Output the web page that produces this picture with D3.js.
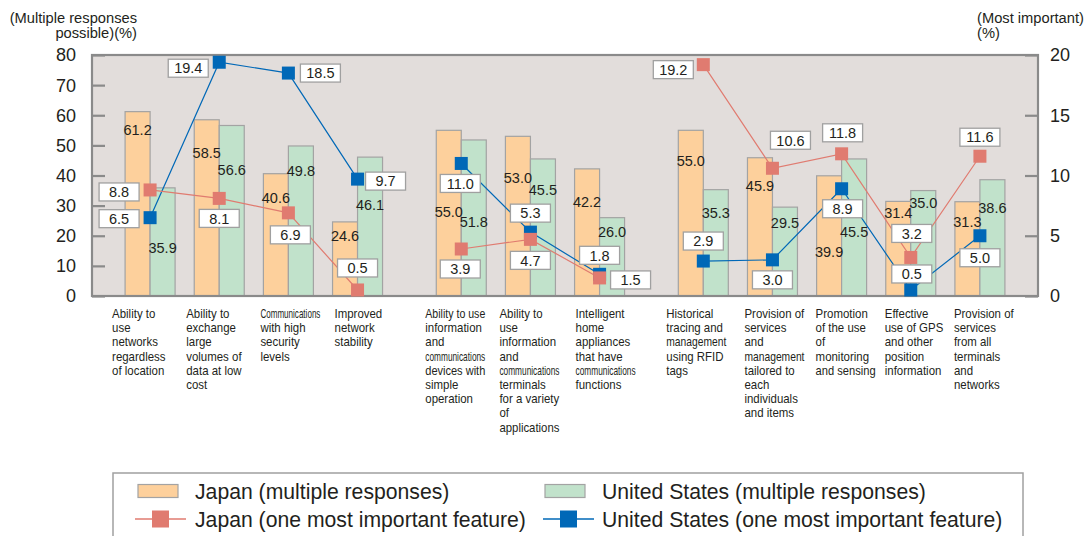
<!DOCTYPE html>
<html>
<head>
<meta charset="utf-8">
<script src="https://cdn.jsdelivr.net/npm/d3@7"></script>
<style>
  body { margin: 0; background: #fff; }
  text { font-family: "Liberation Sans", Arial, sans-serif; fill: #231f20; }
</style>
</head>
<body>
<svg id="chart"></svg>
<script>
// data
const categories = [
  ["Ability to", "use", "networks", "regardless", "of location"],
  ["Ability to", "exchange", "large", "volumes of", "data at low", "cost"],
  ["Communications", "with high", "security", "levels"],
  ["Improved", "network", "stability"],
  ["Ability to use", "information", "and", "communications", "devices with", "simple", "operation"],
  ["Ability to", "use", "information", "and", "communications", "terminals", "for a variety", "of", "applications"],
  ["Intelligent", "home", "appliances", "that have", "communications", "functions"],
  ["Historical", "tracing and", "management", "using RFID", "tags"],
  ["Provision of", "services", "and", "management", "tailored to", "each", "individuals", "and items"],
  ["Promotion", "of the use", "of", "monitoring", "and sensing"],
  ["Effective", "use of GPS", "and other", "position", "information"],
  ["Provision of", "services", "from all", "terminals", "and", "networks"]
];
// group of each category (gaps are drawn between groups)
const groups = [0, 0, 0, 0, 1, 1, 1, 2, 2, 2, 2, 2];

const japanMulti = [61.2, 58.5, 40.6, 24.6, 55.0, 53.0, 42.2, 55.0, 45.9, 39.9, 31.4, 31.3];
const usMulti    = [35.9, 56.6, 49.8, 46.1, 51.8, 45.5, 26.0, 35.3, 29.5, 45.5, 35.0, 38.6];
const japanTop   = [8.8, 8.1, 6.9, 0.5, 3.9, 4.7, 1.5, 19.2, 10.6, 11.8, 3.2, 11.6];
const usTop      = [6.5, 19.4, 18.5, 9.7, 11.0, 5.3, 1.8, 2.9, 3.0, 8.9, 0.5, 5.0];

const leftTicks = [0, 10, 20, 30, 40, 50, 60, 70, 80];
const rightTicks = [0, 5, 10, 15, 20];

// label placement tweaks (pixels)
const jpBarLabelDy = [18, 33, 24, 14, 81, 41, 33, 30, 28, 76, 11, 20];
const usBarLabelDy = [60, 44, 25, 48, 82, 31, 14, 23, 16, 73, 12, 28];
const jpBoxOff = [[-31, 2], [0, 20], [2, 22], [0, -22], [-1, 20], [0, 21], [31, 2], [-30, 5], [18, -28], [1, -21], [1, -24], [0, -19]];
const usBoxOff = [[-31, 1], [-31, 6], [32, 0], [28, 2], [-1, 20], [0, -19], [0, -19], [0, -20], [0, 20], [1, 20], [1, -16], [0, 22]];
const catLabelDx = [-38, -33, -28, -23, -36, -31, -24, -37, -28, -26, -26, -26];

// constants
const width = 1088;
const height = 536;
const plot = { left: 92, right: 1038, top: 55, bottom: 296 };
const barW = 25;

const colors = {
  bg: "#e2dddb",
  frame: "#8a8a8a",
  jpBar: "#fdd09c",
  usBar: "#c1e2cb",
  barStroke: "#a3a3a3",
  jpLine: "#e07b70",
  usLine: "#0068b7"
};

const svg = d3.select("#chart")
  .attr("width", width)
  .attr("height", height);

// slot position of each category (half a slot of extra space between groups)
const slot = categories.map((d, i) => i + groups[i] * 0.5);

const x = d3.scaleLinear()
  .domain([-0.84, 12.84])
  .range([plot.left, plot.right]);
const yLeft = d3.scaleLinear().domain([0, 80]).range([plot.bottom, plot.top]);
const yRight = d3.scaleLinear().domain([0, 20]).range([plot.bottom, plot.top]);

// plot background
svg.append("rect")
  .attr("x", plot.left)
  .attr("y", plot.top)
  .attr("width", plot.right - plot.left)
  .attr("height", plot.bottom - plot.top)
  .attr("fill", colors.bg);

// bars
const bars = svg.append("g");
bars.selectAll(".jp")
  .data(japanMulti)
  .enter().append("rect")
  .attr("x", (d, i) => x(slot[i]) - barW)
  .attr("y", d => yLeft(d))
  .attr("width", barW)
  .attr("height", d => plot.bottom - yLeft(d))
  .attr("fill", colors.jpBar)
  .attr("stroke", colors.barStroke)
  .attr("stroke-width", 1.2);
bars.selectAll(".us")
  .data(usMulti)
  .enter().append("rect")
  .attr("x", (d, i) => x(slot[i]))
  .attr("y", d => yLeft(d))
  .attr("width", barW)
  .attr("height", d => plot.bottom - yLeft(d))
  .attr("fill", colors.usBar)
  .attr("stroke", colors.barStroke)
  .attr("stroke-width", 1.2);

// bar value labels
const barLabels = svg.append("g")
  .style("font-size", "14.5px")
  .attr("text-anchor", "middle");
barLabels.selectAll(".jpl")
  .data(japanMulti)
  .enter().append("text")
  .attr("x", (d, i) => x(slot[i]) - barW / 2)
  .attr("y", (d, i) => yLeft(d) + jpBarLabelDy[i])
  .attr("dy", "0.36em")
  .text(d => d.toFixed(1));
barLabels.selectAll(".usl")
  .data(usMulti)
  .enter().append("text")
  .attr("x", (d, i) => x(slot[i]) + barW / 2)
  .attr("y", (d, i) => yLeft(d) + usBarLabelDy[i])
  .attr("dy", "0.36em")
  .text(d => d.toFixed(1));

// frame and axes
svg.append("rect")
  .attr("x", plot.left)
  .attr("y", plot.top)
  .attr("width", plot.right - plot.left)
  .attr("height", plot.bottom - plot.top)
  .attr("fill", "none")
  .attr("stroke", colors.frame)
  .attr("stroke-width", 2.2);

const leftAxis = svg.append("g")
  .attr("transform", "translate(" + plot.left + ",0)")
  .call(d3.axisRight(yLeft).tickValues(leftTicks).tickSize(13).tickFormat(""));
const rightAxis = svg.append("g")
  .attr("transform", "translate(" + plot.right + ",0)")
  .call(d3.axisLeft(yRight).tickValues(rightTicks).tickSize(13).tickFormat(""));
[leftAxis, rightAxis].forEach(a => {
  a.select(".domain").remove();
  a.selectAll(".tick line").attr("stroke", colors.frame).attr("stroke-width", 2.2);
});

svg.append("g")
  .style("font-size", "18px")
  .attr("text-anchor", "end")
  .selectAll("text")
  .data(leftTicks)
  .enter().append("text")
  .attr("x", plot.left - 16)
  .attr("y", d => yLeft(d))
  .attr("dy", "0.36em")
  .text(d => d);

svg.append("g")
  .style("font-size", "18px")
  .attr("text-anchor", "start")
  .selectAll("text")
  .data(rightTicks)
  .enter().append("text")
  .attr("x", plot.right + 12)
  .attr("y", d => yRight(d))
  .attr("dy", "0.36em")
  .text(d => d);

// axis titles
const leftTitle = svg.append("text")
  .attr("text-anchor", "end")
  .style("font-size", "14.7px");
leftTitle.append("tspan").attr("x", 137).attr("y", 23).text("(Multiple responses");
leftTitle.append("tspan").attr("x", 137).attr("y", 38).text("possible)(%)");

const rightTitle = svg.append("text")
  .style("font-size", "14.7px");
rightTitle.append("tspan").attr("x", 977).attr("y", 23).text("(Most important)");
rightTitle.append("tspan").attr("x", 977).attr("y", 38).text("(%)");

// lines (one segment per group)
function drawLine(values, yScale, color) {
  const line = d3.line()
    .x(d => x(slot[d]))
    .y(d => yScale(values[d]));
  d3.groups(d3.range(values.length), i => groups[i]).forEach(([g, idx]) => {
    svg.append("path")
      .attr("d", line(idx))
      .attr("fill", "none")
      .attr("stroke", color)
      .attr("stroke-width", 1.2);
  });
}
drawLine(usTop, yRight, colors.usLine);
drawLine(japanTop, yRight, colors.jpLine);

// value boxes
function drawBoxes(values, offsets) {
  const g = svg.append("g").selectAll("g")
    .data(values)
    .enter().append("g")
    .attr("transform", (d, i) => "translate(" + (x(slot[i]) + offsets[i][0]) + "," + (yRight(d) + offsets[i][1]) + ")");
  g.append("rect")
    .attr("x", -20)
    .attr("y", -9)
    .attr("width", 40)
    .attr("height", 18)
    .attr("fill", "#fff")
    .attr("stroke", "#a0a0a0")
    .attr("stroke-width", 1.3);
  g.append("text")
    .attr("text-anchor", "middle")
    .attr("dy", "0.36em")
    .style("font-size", "14.5px")
    .text(d => d.toFixed(1));
}
drawBoxes(usTop, usBoxOff);
drawBoxes(japanTop, jpBoxOff);

// markers (Japan drawn on top)
function drawMarkers(values, color) {
  svg.append("g").selectAll("rect")
    .data(values)
    .enter().append("rect")
    .attr("x", (d, i) => x(slot[i]) - 6.5)
    .attr("y", d => yRight(d) - 6.5)
    .attr("width", 13)
    .attr("height", 13)
    .attr("fill", color);
}
drawMarkers(usTop, colors.usLine);
drawMarkers(japanTop, colors.jpLine);

// category labels (narrowed glyphs, long words squeezed to fit the column)
const squeeze = 0.88;
const maxLine = 60;
const cats = svg.append("g")
  .style("font-size", "13px")
  .selectAll("text")
  .data(categories)
  .enter().append("text")
  .attr("transform", (d, i) => "translate(" + (x(slot[i]) + catLabelDx[i]) + ",318)");
cats.each(function(lines) {
  const t = d3.select(this);
  lines.forEach((l, j) => {
    const ts = t.append("tspan")
      .attr("x", 0)
      .attr("y", j * 14.2)
      .text(l);
    const w = Math.min(ts.node().getComputedTextLength() * squeeze, maxLine);
    ts.attr("textLength", w).attr("lengthAdjust", "spacingAndGlyphs");
  });
});

// legend
const legend = svg.append("g");
legend.append("rect")
  .attr("x", 113)
  .attr("y", 473)
  .attr("width", 910)
  .attr("height", 90)
  .attr("fill", "#fff")
  .attr("stroke", "#a0a0a0")
  .attr("stroke-width", 1.5);

const legendItems = [
  { label: "Japan (multiple responses)", type: "bar", color: colors.jpBar, x: 138, y: 491 },
  { label: "United States (multiple responses)", type: "bar", color: colors.usBar, x: 545, y: 491 },
  { label: "Japan (one most important feature)", type: "line", color: colors.jpLine, x: 135, y: 519 },
  { label: "United States (one most important feature)", type: "line", color: colors.usLine, x: 543, y: 519 }
];
legendItems.forEach(d => {
  if (d.type === "bar") {
    legend.append("rect")
      .attr("x", d.x).attr("y", d.y - 6.5)
      .attr("width", 40).attr("height", 13)
      .attr("fill", d.color)
      .attr("stroke", colors.barStroke)
      .attr("stroke-width", 1.2);
  } else {
    legend.append("line")
      .attr("x1", d.x).attr("x2", d.x + 51)
      .attr("y1", d.y).attr("y2", d.y)
      .attr("stroke", d.color)
      .attr("stroke-width", 1.3);
    legend.append("rect")
      .attr("x", d.x + 17).attr("y", d.y - 8.5)
      .attr("width", 17).attr("height", 17)
      .attr("fill", d.color);
  }
  legend.append("text")
    .attr("x", d.x < 300 ? 195 : 602)
    .attr("y", d.y)
    .attr("dy", "0.36em")
    .style("font-size", "21.2px")
    .text(d.label);
});
</script>
</body>
</html>
